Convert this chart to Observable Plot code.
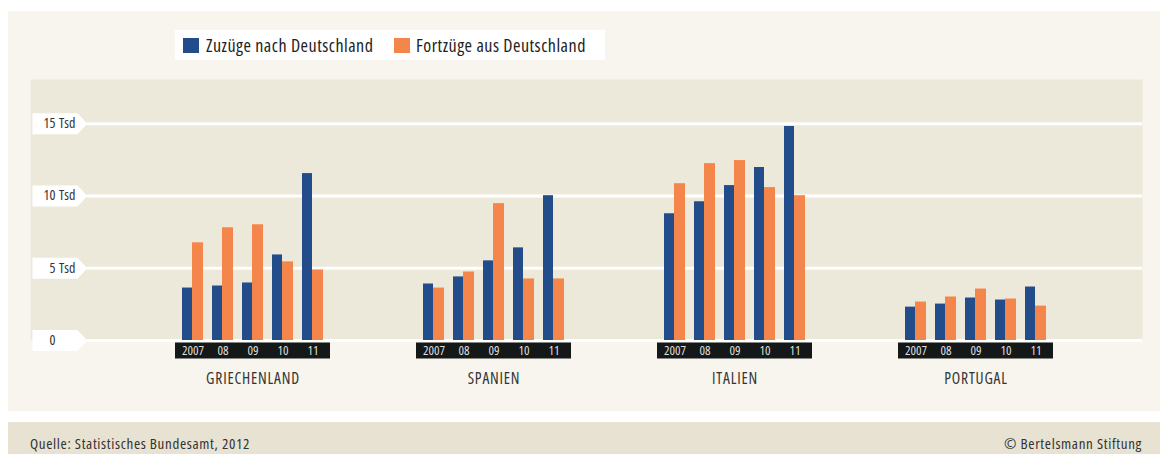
<!DOCTYPE html>
<html>
<head>
<meta charset="utf-8">
<script src="https://cdn.jsdelivr.net/npm/d3@7"></script>
<script src="https://cdn.jsdelivr.net/npm/@observablehq/plot@0.6"></script>
<style>
  body { margin: 0; background: #ffffff; font-family: "Open Sans", "Liberation Sans", sans-serif; font-stretch: 75%; }
  #page { position: relative; width: 1160px; height: 454px; overflow: hidden; }
  #panel { position: absolute; left: 8px; top: 11px; width: 1152px; height: 400px; background: #f8f5ee; }
  #legend { position: absolute; left: 175px; top: 30px; width: 430px; height: 30px; background: #ffffff; font-size: 18px; letter-spacing: 0.5px; color: #222; }
  #legend .sw { position: absolute; top: 8px; width: 16px; height: 15px; }
  #legend .lt { position: absolute; top: 0; line-height: 30px; white-space: nowrap; }
  #chart { position: absolute; left: 0; top: 64px; width: 1160px; height: 336px; }
  #chart svg { position: absolute; left: 0; top: 0; }
  #footer { position: absolute; left: 8px; top: 422px; width: 1152px; height: 32px; background: #e8e2d2; font-size: 15px; letter-spacing: 0.65px; color: #333; }
  #footer span { position: absolute; top: 10px; line-height: 22px; white-space: nowrap; }
</style>
</head>
<body>
<div id="page">
  <div id="panel"></div>
  <div id="legend">
    <div class="sw" style="left:8px;background:#224d8a"></div>
    <div class="lt" style="left:31px">Zuzüge nach Deutschland</div>
    <div class="sw" style="left:219px;background:#f5864b"></div>
    <div class="lt" style="left:241px">Fortzüge aus Deutschland</div>
  </div>
  <div id="chart"></div>
  <div id="footer">
    <span style="left:22px">Quelle: Statistisches Bundesamt, 2012</span>
    <span style="right:18px">© Bertelsmann Stiftung</span>
  </div>
</div>
<script>
// ---- data (thousands of persons) ----
const countries = ["GRIECHENLAND", "SPANIEN", "ITALIEN", "PORTUGAL"];
const years = ["2007", "08", "09", "10", "11"];
const zuzuege = [
  [3.63, 3.77, 3.98, 5.92, 11.55],
  [3.91, 4.40, 5.51, 6.41, 10.02],
  [8.77, 9.60, 10.72, 11.97, 14.81],
  [2.31, 2.52, 2.94, 2.80, 3.70]
];
const fortzuege = [
  [6.76, 7.80, 8.01, 5.44, 4.88],
  [3.63, 4.74, 9.47, 4.26, 4.26],
  [10.85, 12.24, 12.45, 10.58, 10.02],
  [2.66, 3.01, 3.56, 2.87, 2.38]
];
const yTicks = [0, 5, 10, 15];
const seriesNames = ["Zuzüge nach Deutschland", "Fortzüge aus Deutschland"];

const rows = countries.flatMap((c, i) => years.map((yr, j) => ({
  country: c, year: yr, zu: zuzuege[i][j], fort: fortzuege[i][j]
})));

const W = 1160, H = 336, MT = 15, MB = 60;
const FONT = '"Open Sans", "Liberation Sans", sans-serif';
const yOpts = {domain: [0, 18.06], axis: null};

// label tag shape (white pennant pointing at the gridline)
const tag = {
  draw(ctx) {
    ctx.moveTo(2, -10.5); ctx.lineTo(47, -10.5); ctx.lineTo(57, 0);
    ctx.lineTo(47, 10.5); ctx.lineTo(2, 10.5); ctx.closePath();
  }
};

const base = Plot.plot({
  width: W, height: H,
  marginTop: MT, marginBottom: MB, marginLeft: 30, marginRight: 18,
  style: {background: "transparent", fontFamily: FONT, fontStretch: "75%"},
  y: yOpts,
  marks: [
    Plot.frame({fill: "#ece8da"}),
    Plot.ruleY(yTicks, {stroke: "#ffffff", strokeWidth: 3, insetLeft: 57}),
    Plot.dot(yTicks, {y: d => d, frameAnchor: "left", symbol: tag, fill: "#ffffff", stroke: "none"}),
    Plot.text(yTicks, {y: d => d, frameAnchor: "left", dx: 25, textAnchor: "end",
      text: d => String(d), fontSize: 14, fill: "#333"}),
    Plot.text(yTicks.filter(d => d > 0), {y: d => d, frameAnchor: "left", dx: 28.5, textAnchor: "start",
      text: () => "Tsd", fontSize: 14, fill: "#333"})
  ]
});

const bars = Plot.plot({
  width: W, height: H,
  marginTop: MT, marginBottom: MB, marginLeft: 87, marginRight: 18,
  style: {background: "transparent", fontFamily: FONT, fontStretch: "75%"},
  fx: {domain: countries, paddingInner: 0, paddingOuter: 0.186, align: 0.49, axis: null},
  x: {domain: years, paddingInner: 0.308, paddingOuter: 1.632, axis: null},
  y: yOpts,
  marks: [
    Plot.ruleY([0], {stroke: "#141819", strokeWidth: 16, dy: 10, insetLeft: 43, insetRight: 43}),
    Plot.text(years, {x: d => d, y: 0, dy: 10, text: d => d, fill: "#dedede", fontSize: 13}),
    Plot.text(countries, {fx: d => d, y: 0, dy: 39, text: d => d, fill: "#333", fontSize: 15.5}),
    Plot.barY(rows, {fx: "country", x: "year", y: "zu", fill: "#224d8a", insetRight: 11,
      title: d => seriesNames[0] + " " + d.year + ": " + d.zu}),
    Plot.barY(rows, {fx: "country", x: "year", y: "fort", fill: "#f5864b", insetLeft: 10,
      title: d => seriesNames[1] + " " + d.year + ": " + d.fort})
  ]
});

// slightly wider tracking for the country names
d3.select(bars).selectAll("text")
  .filter(function () { return countries.includes(this.textContent); })
  .attr("letter-spacing", "0.8px");

const chart = document.getElementById("chart");
chart.appendChild(base);
chart.appendChild(bars);
</script>
</body>
</html>
